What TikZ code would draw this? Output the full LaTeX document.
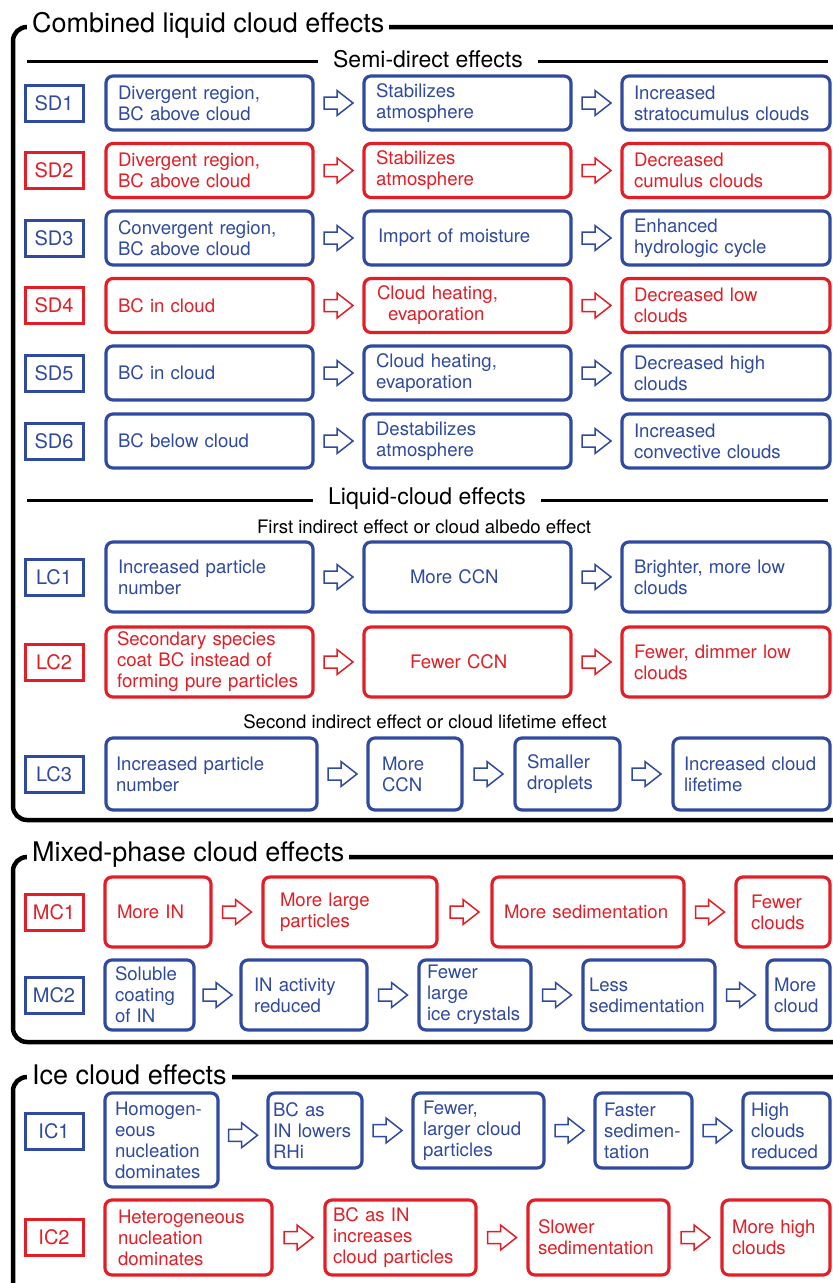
\documentclass[tikz,border=0pt]{standalone}
\usepackage{fontspec}
\setmainfont{TeX Gyre Heros}
\usetikzlibrary{calc}
\definecolor{bl}{RGB}{48,74,160}
\definecolor{rd}{RGB}{226,30,38}
\newcommand\bxfont{\fontsize{18.6}{21}\selectfont\hyphenpenalty=10000\exhyphenpenalty=10000\relax}
\newcommand\labfont{\fontsize{20}{22}\selectfont}
\newcommand\secfont{\fontsize{27}{30}\selectfont}
\newcommand\subfont{\fontsize{23}{26}\selectfont}
\tikzset{
  frame/.style={line width=4.5pt, rounded corners=14pt},
  subline/.style={line width=3pt},
  sect/.style={fill=white, inner xsep=5pt, inner ysep=1pt, font=\secfont, anchor=west},
  subsect/.style={fill=white, inner xsep=15pt, inner ysep=1pt, font=\subfont},
  note/.style={inner sep=1pt, font=\bxfont},
  lab/.style={draw, line width=3pt, minimum width=58pt, minimum height=36pt, inner sep=0pt, font=\labfont},
  lb/.style={lab, draw=bl, text=bl},
  lr/.style={lab, draw=rd, text=rd},
  bb/.style={draw, line width=3.2pt, rounded corners=7pt, inner xsep=12pt, inner ysep=0pt, align=left, font=\bxfont},
  bbl/.style={bb, draw=bl, text=bl},
  bbr/.style={bb, draw=rd, text=rd},
  barrow/.pic={\draw[line width=1.5pt, fill=white, line join=miter, pic actions]
     (-14.5,-6) -- (-1.5,-6) -- (-1.5,-12.5) -- (14.5,0) -- (-1.5,12.5) -- (-1.5,6) -- (-14.5,6) -- cycle;}
}
\begin{document}
\begin{tikzpicture}[x=1pt,y=-1pt]
\useasboundingbox (0,0) rectangle (833,1283);
\fill[white] (0,0) rectangle (833,1283);

% ---------- frames ----------
\draw[frame] (836,27) -- (13,27) -- (13,820) -- (836,820);
\node[sect] (t1) at (27,25) {Combined liquid cloud effects};
\draw[frame] (836,857) -- (13,857) -- (13,1042) -- (836,1042);
\node[sect] (t2) at (27,855) {Mixed-phase cloud effects};
\draw[frame] (836,1077) -- (13,1077) -- (13,1300);
\node[sect] (t3) at (27,1075) {Ice cloud effects};

% ---------- semi-direct ----------
\draw[subline] (27,61) -- (828,61);
\node[subsect] (s1) at (428,59) {Semi-direct effects};

\node[lb] (sd1l) at (54,103) {SD1};
\node[bbl, minimum height=54pt, text width=183pt] (sd1a) at (209.5,103) {Divergent region,\\BC above cloud};
\node[bbl, minimum height=54pt, text width=183pt] (sd1b) at (467.5,103) {Stabilizes\\atmosphere};
\node[bbl, minimum height=54pt, text width=184pt] (sd1c) at (726,103) {Increased\\stratocumulus clouds};

\node[lr] (sd2l) at (54,170.5) {SD2};
\node[bbr, minimum height=54pt, text width=183pt] (sd2a) at (209.5,170.5) {Divergent region,\\BC above cloud};
\node[bbr, minimum height=54pt, text width=183pt] (sd2b) at (467.5,170.5) {Stabilizes\\atmosphere};
\node[bbr, minimum height=54pt, text width=184pt] (sd2c) at (726,170.5) {Decreased\\cumulus clouds};

\node[lb] (sd3l) at (54,238) {SD3};
\node[bbl, minimum height=54pt, text width=183pt] (sd3a) at (209.5,238) {Convergent region,\\BC above cloud};
\node[bbl, minimum height=54pt, inner xsep=14pt, text width=179pt] (sd3b) at (467.5,238) {Import of moisture};
\node[bbl, minimum height=54pt, text width=184pt] (sd3c) at (726,238) {Enhanced\\hydrologic cycle};

\node[lr] (sd4l) at (54,305.5) {SD4};
\node[bbr, minimum height=54pt, text width=183pt] (sd4a) at (209.5,305.5) {BC in cloud};
\node[bbr, minimum height=54pt, inner xsep=13pt, text width=181pt] (sd4b) at (467.5,305.5) {Cloud heating,\\\hspace*{11pt}evaporation};
\node[bbr, minimum height=54pt, text width=184pt] (sd4c) at (726,305.5) {Decreased low\\clouds};

\node[lb] (sd5l) at (54,373) {SD5};
\node[bbl, minimum height=54pt, text width=183pt] (sd5a) at (209.5,373) {BC in cloud};
\node[bbl, minimum height=54pt, text width=183pt] (sd5b) at (467.5,373) {Cloud heating,\\evaporation};
\node[bbl, minimum height=54pt, text width=184pt] (sd5c) at (726,373) {Decreased high\\clouds};

\node[lb] (sd6l) at (54,441) {SD6};
\node[bbl, minimum height=54pt, text width=183pt] (sd6a) at (209.5,441) {BC below cloud};
\node[bbl, minimum height=54pt, text width=183pt] (sd6b) at (467.5,441) {Destabilizes\\atmosphere};
\node[bbl, minimum height=54pt, text width=184pt] (sd6c) at (726,441) {Increased\\convective clouds};

% ---------- liquid-cloud ----------
\draw[subline] (27,500) -- (828,500);
\node[subsect] (s2) at (427,499) {Liquid-cloud effects};
\node[note] (n1) at (424,527) {First indirect effect or cloud albedo effect};

\node[lb] (lc1l) at (54,577) {LC1};
\node[bbl, minimum height=70pt, text width=183pt] (lc1a) at (209.5,577) {Increased particle\\number};
\node[bbl, minimum height=70pt, inner xsep=46pt, text width=115pt] (lc1b) at (467.5,577) {More CCN};
\node[bbl, minimum height=70pt, text width=184pt] (lc1c) at (726,577) {Brighter, more low\\clouds};

\node[lr] (lc2l) at (54,662) {LC2};
\node[bbr, minimum height=70pt, inner xsep=11pt, text width=185pt] (lc2a) at (209.5,662) {Secondary species\\coat BC instead of\\forming pure particles};
\node[bbr, minimum height=70pt, inner xsep=46pt, text width=115pt] (lc2b) at (467.5,662) {Fewer CCN};
\node[bbr, minimum height=70pt, text width=184pt] (lc2c) at (726,662) {Fewer, dimmer low\\clouds};

\node[note] (n2) at (425,722) {Second indirect effect or cloud lifetime effect};

\node[lb] (lc3l) at (54,774) {LC3};
\node[bbl, minimum height=72pt, inner xsep=10pt, text width=191pt] (lc3a) at (211.5,774) {Increased particle\\number};
\node[bbl, minimum height=72pt, inner xsep=14pt, text width=66pt] (lc3b) at (415,774) {More\\CCN};
\node[bbl, minimum height=72pt, inner xsep=12pt, text width=81pt] (lc3c) at (567.5,774) {Smaller\\droplets};
\node[bbl, minimum height=72pt, inner xsep=11pt, text width=135pt] (lc3d) at (751.5,774) {Increased cloud\\lifetime};

% ---------- mixed-phase ----------
\node[lr] (mc1l) at (54,912) {MC1};
\node[bbr, minimum height=70pt, inner xsep=12pt, text width=82pt] (mc1a) at (158,912) {More IN};
\node[bbr, minimum height=70pt, inner xsep=17pt, text width=140pt] (mc1b) at (350,912) {More large\\particles};
\node[bbr, minimum height=70pt, inner xsep=12pt, text width=168pt] (mc1c) at (588,912) {More sedimentation};
\node[bbr, minimum height=70pt, inner xsep=15pt, text width=64pt] (mc1d) at (783,912) {Fewer\\clouds};

\node[lb] (mc2l) at (54,995) {MC2};
\node[bbl, minimum height=70pt, inner xsep=10pt, text width=69pt] (mc2a) at (149.5,995) {Soluble\\coating\\of IN};
\node[bbl, minimum height=70pt, inner xsep=13pt, text width=100pt] (mc2b) at (304,995) {IN activity\\reduced};
\node[bbl, minimum height=70pt, inner xsep=8pt, text width=96pt] (mc2c) at (475,995) {Fewer\\large\\ice crystals};
\node[bbl, minimum height=70pt, inner xsep=6pt, text width=120pt] (mc2d) at (649,995) {Less\\sedimentation};
\node[bbl, minimum height=70pt, inner xsep=7pt, text width=49pt] (mc2e) at (798.5,995) {More\\cloud};

% ---------- ice ----------
\node[lb] (ic1l) at (54,1131) {IC1};
\node[bbl, minimum height=94pt, inner xsep=10pt, text width=93pt] (ic1a) at (161.5,1140) {Homogen-\\eous\\nucleation\\dominates};
\node[bbl, minimum height=75pt, inner xsep=5pt, text width=84pt] (ic1b) at (315,1130.5) {BC as\\IN lowers\\RHi};
\node[bbl, minimum height=75pt, inner xsep=10pt, text width=111pt] (ic1c) at (478.5,1130.5) {Fewer,\\larger cloud\\particles};
\node[bbl, minimum height=75pt, inner xsep=9pt, text width=79pt] (ic1d) at (643.5,1130.5) {Faster\\sedimen-\\tation};
\node[bbl, minimum height=75pt, inner xsep=8pt, text width=71pt] (ic1e) at (786.5,1130.5) {High\\clouds\\reduced};

\node[lr] (ic2l) at (54,1237) {IC2};
\node[bbr, minimum height=75pt, inner xsep=13pt, text width=141pt] (ic2a) at (188.5,1237.5) {Heterogeneous\\nucleation\\dominates};
\node[bbr, minimum height=75pt, inner xsep=8pt, text width=135pt] (ic2b) at (400.5,1237.5) {BC as IN\\increases\\cloud particles};
\node[bbr, minimum height=75pt, inner xsep=10pt, text width=121pt] (ic2c) at (598.5,1237.5) {Slower\\sedimentation};
\node[bbr, minimum height=75pt, inner xsep=10pt, text width=88pt] (ic2d) at (776,1237.5) {More high\\clouds};

% ---------- block arrows ----------
\foreach \a/\b/\c in {sd1a/sd1b/bl, sd1b/sd1c/bl, sd2a/sd2b/rd, sd2b/sd2c/rd,
  sd3a/sd3b/bl, sd3b/sd3c/bl, sd4a/sd4b/rd, sd4b/sd4c/rd, sd5a/sd5b/bl, sd5b/sd5c/bl,
  sd6a/sd6b/bl, sd6b/sd6c/bl, lc1a/lc1b/bl, lc1b/lc1c/bl, lc2a/lc2b/rd, lc2b/lc2c/rd,
  lc3a/lc3b/bl, lc3b/lc3c/bl, lc3c/lc3d/bl,
  mc1a/mc1b/rd, mc1b/mc1c/rd, mc1c/mc1d/rd,
  mc2a/mc2b/bl, mc2b/mc2c/bl, mc2c/mc2d/bl, mc2d/mc2e/bl,
  ic1a/ic1b/bl, ic1b/ic1c/bl, ic1c/ic1d/bl, ic1d/ic1e/bl,
  ic2a/ic2b/rd, ic2b/ic2c/rd, ic2c/ic2d/rd}
  \pic[draw=\c] at ($(\a.east)!0.5!(\b.west)$) {barrow};
\end{tikzpicture}
\end{document}
